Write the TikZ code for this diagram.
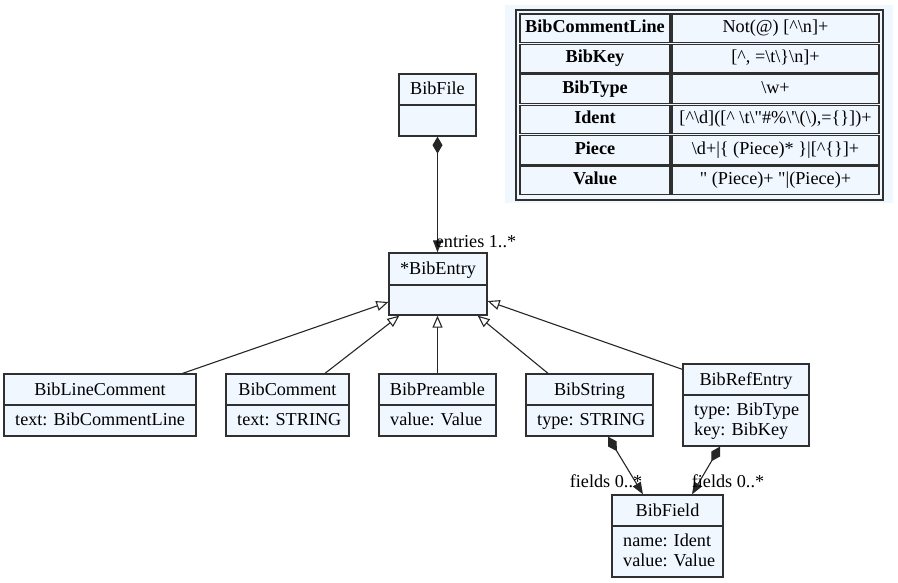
\documentclass[tikz,border=0pt]{standalone}
\usepackage{fontspec}
\setmainfont{Liberation Serif}
\usetikzlibrary{arrows.meta}
\definecolor{clsfill}{HTML}{F0F7FF}
\definecolor{clsline}{HTML}{303030}
\newcommand\umlcls[7]{% name, x1, x2, y1, ydiv, y2, title
  \node[cls, minimum width={#3pt-#2pt}, minimum height={#6pt-#4pt}] (#1) at ({(#2+#3)/2},{(#4+#6)/2}) {};
  \draw[clsdiv] (#2,#5) -- (#3,#5);
  \node[txt, anchor=base] (#1-title) at ({(#2+#3)/2},#4+21) {#7};
}
\begin{document}
\begin{tikzpicture}[x=1pt,y=-1pt,
  font=\fontsize{18.2}{21}\selectfont,
  cls/.style={draw=clsline, fill=clsfill, line width=1.3pt, inner sep=0pt},
  clsdiv/.style={draw=clsline, line width=1.3pt},
  txt/.style={inner sep=0pt, text height=12.5pt, text depth=4pt},
  attr/.style={txt, anchor=base west},
  inh/.style={draw=black!85, -{Triangle[open,length=12pt,width=10pt]}, line width=1.1pt},
  comp/.style={draw=black!85, {Diamond[length=17pt,width=10pt]}-{Triangle[length=12pt,width=9pt]}, line width=1.1pt},
  cell/.style={draw=clsline, line width=1.2pt, inner sep=0pt, minimum height=28.6pt, text height=12.5pt, text depth=4pt},
  kcell/.style={cell, minimum width=150pt},
  vcell/.style={cell, minimum width=207pt}
]
\useasboundingbox (0,0) rectangle (898,583);

% legend table
\node[fill=clsfill, minimum width=388pt, minimum height=198pt, inner sep=0pt] (legend) at (699,104) {};
\node[draw=clsline, line width=1.2pt, minimum width=367pt, minimum height=190pt, inner sep=0pt] (tbl) at (699.5,105) {};
\node[kcell] (k1) at (595,28.3) {\textbf{BibCommentLine}};
\node[vcell] (v1) at (775.5,28.3) {Not(@) [\textasciicircum\textbackslash n]+};
\node[kcell] (k2) at (595,58.7) {\textbf{BibKey}};
\node[vcell] (v2) at (775.5,58.7) {[\textasciicircum, =\textbackslash t\textbackslash\}\textbackslash n]+};
\node[kcell] (k3) at (595,89.1) {\textbf{BibType}};
\node[vcell] (v3) at (775.5,89.1) {\textbackslash w+};
\node[kcell] (k4) at (595,119.5) {\textbf{Ident}};
\node[vcell] (v4) at (775.5,119.5) {[\textasciicircum\textbackslash d]([\textasciicircum{} \textbackslash t\textbackslash\textquotedbl\#\%\textbackslash\textquotesingle\textbackslash(\textbackslash),=\{\}])+};
\node[kcell] (k5) at (595,149.9) {\textbf{Piece}};
\node[vcell] (v5) at (775.5,149.9) {\textbackslash d+|\{ (Piece)* \}|[\textasciicircum\{\}]+};
\node[kcell] (k6) at (595,180.3) {\textbf{Value}};
\node[vcell] (v6) at (775.5,180.3) {\textquotedbl{} (Piece)+ \textquotedbl|(Piece)+};

% classes
\umlcls{bibfile}{399}{476}{74}{105}{136}{BibFile}
\umlcls{bibentry}{389}{487}{253}{285}{315}{*BibEntry}
\umlcls{blc}{4}{196}{374}{405}{436}{BibLineComment}
\node[attr] (blc-a1) at (15,425) {text: BibCommentLine};
\umlcls{bcom}{226}{349}{374}{405}{436}{BibComment}
\node[attr] (bcom-a1) at (237,425) {text: STRING};
\umlcls{bpre}{379}{496}{374}{405}{436}{BibPreamble}
\node[attr] (bpre-a1) at (390,425) {value: Value};
\umlcls{bstr}{526}{653}{374}{405}{436}{BibString}
\node[attr] (bstr-a1) at (537,425) {type: STRING};
\umlcls{bref}{683}{809}{364}{395}{446}{BibRefEntry}
\node[attr] (bref-a1) at (694,415) {type: BibType};
\node[attr] (bref-a2) at (694,435) {key: BibKey};
\umlcls{bfield}{612}{723}{495}{526}{577}{BibField}
\node[attr] (bfield-a1) at (623,546) {name: Ident};
\node[attr] (bfield-a2) at (623,566) {value: Value};

% inheritance
\draw[inh] ([xshift=-14pt]blc.north east) -- ([yshift=-18pt]bibentry.west);
\draw[inh] ([xshift=37.5pt]bcom.north) -- ([xshift=11pt]bibentry.south west);
\draw[inh] (bpre.north) -- (bpre.north |- bibentry.south);
\draw[inh] ([xshift=-41.5pt]bstr.north) -- ([xshift=-10pt]bibentry.south east);
\draw[inh] ([yshift=-6pt]bref.north west) -- ([yshift=-17pt]bibentry.east);

% composition
\draw[comp] (bibfile.south) -- (bibfile.south |- bibentry.north);
\draw[comp] ([xshift=18.5pt]bstr.south) -- ([xshift=-24.5pt]bfield.north);
\draw[comp] ([xshift=-26pt]bref.south) -- ([xshift=24.5pt]bfield.north);

% labels
\node[txt] (lentries) at (476,243) {entries 1..*};
\node[txt] (lfields1) at (606,483) {fields 0..*};
\node[txt] (lfields2) at (728,483) {fields 0..*};
\end{tikzpicture}
\end{document}
